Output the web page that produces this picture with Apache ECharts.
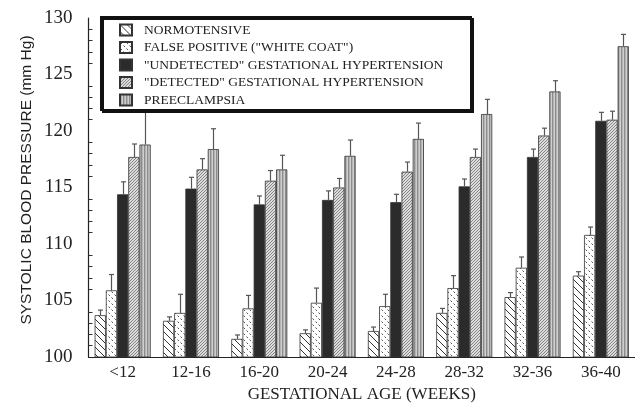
<!DOCTYPE html>
<html><head><meta charset="utf-8">
<script src="https://cdn.jsdelivr.net/npm/echarts@6/dist/echarts.min.js"></script>
<style>html,body{margin:0;padding:0;background:#fff}#c{width:635px;height:408px}</style>
</head><body><div id="c"></div>
<script>
const categories = ['<12','12-16','16-20','20-24','24-28','28-32','32-36','36-40'];
const seriesNames = ['NORMOTENSIVE','FALSE POSITIVE ("WHITE COAT")','"UNDETECTED" GESTATIONAL HYPERTENSION','"DETECTED" GESTATIONAL HYPERTENSION','PREECLAMPSIA'];
const normotensive = [103.7, 103.2, 101.6, 102.1, 102.3, 103.9, 105.3, 107.2];
const normotensiveErr = [0.45, 0.35, 0.35, 0.3, 0.35, 0.4, 0.4, 0.35];
const falsePositive = [105.9, 103.9, 104.3, 104.8, 104.5, 106.1, 107.9, 110.8];
const falsePositiveErr = [1.4, 1.65, 1.15, 1.3, 1.05, 1.1, 0.95, 0.7];
const undetected = [114.4, 114.9, 113.5, 113.9, 113.7, 115.1, 117.7, 120.9];
const undetectedErr = [1.1, 1.0, 0.75, 0.8, 0.7, 0.65, 0.7, 0.75];
const detected = [117.7, 116.6, 115.6, 115.0, 116.4, 117.7, 119.6, 121.0];
const detectedErr = [1.15, 0.95, 0.9, 0.8, 0.85, 0.7, 0.65, 0.75];
const preeclampsia = [118.8, 118.4, 116.6, 117.8, 119.3, 121.5, 123.5, 127.5];
const preeclampsiaErr = [3.0, 1.8, 1.25, 1.4, 1.4, 1.3, 0.95, 1.05];
const yTicks = [100, 105, 110, 115, 120, 125, 130];

const values = [normotensive, falsePositive, undetected, detected, preeclampsia];
const errs = [normotensiveErr, falsePositiveErr, undetectedErr, detectedErr, preeclampsiaErr];

function pat(w, h, draw) {
  const c = document.createElement('canvas'); c.width = w; c.height = h;
  const g = c.getContext('2d'); draw(g, w, h);
  return { image: c, repeat: 'repeat' };
}
function line(g, a, b, c, d) { g.beginPath(); g.moveTo(a, b); g.lineTo(c, d); g.stroke(); }
const fills = [
  pat(7, 7, (g, w, h) => { g.fillStyle = '#fff'; g.fillRect(0, 0, w, h); g.strokeStyle = '#333'; g.lineWidth = 1;
    line(g, -1, -1, 8, 8); line(g, -1, 6, 1, 8); line(g, 6, -1, 8, 1); }),
  pat(6, 6, (g, w, h) => { g.fillStyle = '#fff'; g.fillRect(0, 0, w, h); g.strokeStyle = '#555'; g.lineWidth = 1;
    line(g, 0.5, 0.5, 2, 2); line(g, 3.5, 3.5, 5, 5); }),
  '#2b2b2b',
  pat(3, 3, (g, w, h) => { g.fillStyle = '#dcdcdc'; g.fillRect(0, 0, w, h); g.strokeStyle = '#7a7a7a'; g.lineWidth = 0.9;
    line(g, 0, 3, 3, 0); line(g, -1, 1, 1, -1); line(g, 2, 4, 4, 2); }),
  pat(3, 2, (g, w, h) => { g.fillStyle = '#8c8c8c'; g.fillRect(0, 0, 1, h); g.fillStyle = '#b4b4b4'; g.fillRect(1, 0, 1, h); g.fillStyle = '#cfcfcf'; g.fillRect(2, 0, 1, h); })
];

const series = [];
seriesNames.forEach((name, i) => {
  series.push({
    name: name, type: 'bar', data: values[i], barGap: '0%', barCategoryGap: '18%',
    itemStyle: { color: fills[i], borderColor: '#333', borderWidth: 0.8 }, z: 2
  });
});
seriesNames.forEach((name, si) => {
  series.push({
    name: 'err' + si, type: 'custom', z: 3,
    data: values[si].map((v, k) => [k, v, v + errs[si][k]]),
    renderItem: function (params, api) {
      const band = api.size([1, 0])[0];
      const bw = band * 0.82 / 5;
      const c = api.coord([api.value(0), api.value(1)]);
      const t = api.coord([api.value(0), api.value(2)]);
      const x = Math.round(c[0] - band * 0.41 + (si + 0.5) * bw) + 0.5;
      const st = { stroke: '#555', lineWidth: 1.2 };
      return { type: 'group', children: [
        { type: 'line', shape: { x1: x, y1: c[1], x2: x, y2: t[1] }, style: st },
        { type: 'line', shape: { x1: x - 2.5, y1: t[1], x2: x + 2.5, y2: t[1] }, style: st }
      ] };
    }
  });
});

const chart = echarts.init(document.getElementById('c'), null, { renderer: 'canvas' });
chart.setOption({
  animation: false,
  backgroundColor: '#fff',
  grid: { left: 88.5, right: 0, top: 18, bottom: 46 },
  xAxis: {
    type: 'category', data: categories,
    axisLine: { lineStyle: { color: '#222', width: 1.2 } },
    axisTick: { inside: true, length: 5, lineStyle: { color: '#333' } },
    axisLabel: { fontFamily: 'Liberation Serif', fontSize: 17, color: '#222', margin: 7 },
    name: 'GESTATIONAL AGE (WEEKS)', nameLocation: 'middle', nameGap: 29,
    nameTextStyle: { fontFamily: 'Liberation Serif', fontSize: 17, color: '#222' }
  },
  yAxis: {
    type: 'value', min: yTicks[0], max: yTicks[yTicks.length - 1], interval: 5,
    axisLine: { show: true, lineStyle: { color: '#222', width: 1.2 } },
    axisTick: { inside: true, length: 6, lineStyle: { color: '#333' } },
    minorTick: { show: true, splitNumber: 5, length: 4, lineStyle: { color: '#333' } },
    splitLine: { show: false },
    axisLabel: { fontFamily: 'Liberation Serif', fontSize: 19, color: '#222', margin: 16 }
  },
  legend: {
    data: seriesNames, orient: 'vertical', left: 119, top: 23, padding: 0,
    itemWidth: 12, itemHeight: 11, itemGap: 3.5, icon: 'rect', z: 5,
    textStyle: { fontFamily: 'Liberation Serif', fontSize: 13.5, color: '#222', padding: [0, 0, 0, 7] }
  },
  graphic: [
    { type: 'rect', z: 4, shape: { x: 101, y: 17, width: 370, height: 93 },
      style: { fill: '#fff', stroke: '#111', lineWidth: 2, shadowColor: '#111', shadowOffsetX: 2, shadowOffsetY: 2, shadowBlur: 0 } },
    { type: 'text', z: 4, x: 27, y: 180, rotation: Math.PI / 2,
      style: { text: 'SYSTOLIC BLOOD PRESSURE (mm Hg)', font: '15.5px "Liberation Sans"', fill: '#222', align: 'center', verticalAlign: 'middle' } }
  ],
  series: series
});
</script></body></html>
